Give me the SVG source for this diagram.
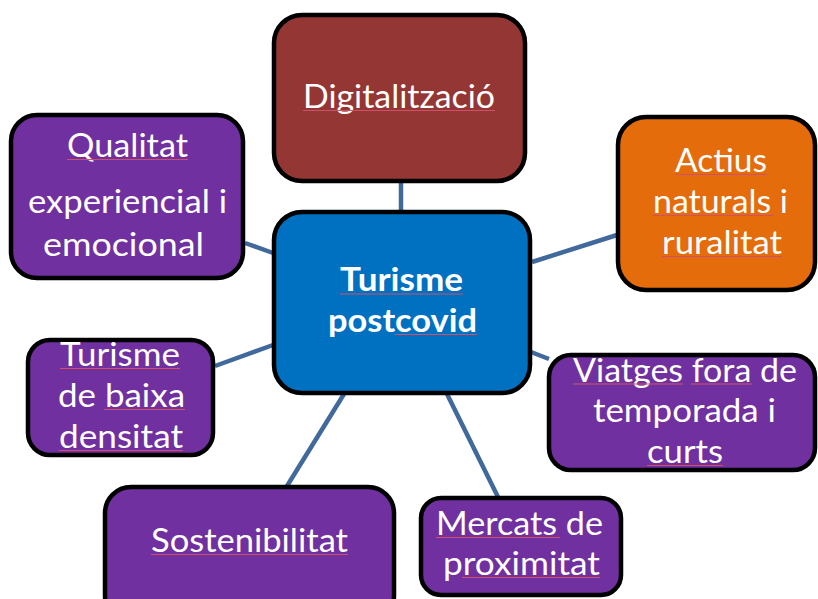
<svg xmlns="http://www.w3.org/2000/svg" width="818" height="599" viewBox="0 0 818 599">
<style>
.box{stroke:#000;stroke-width:4.5}
.purple{fill:#7030A0}
.t{font-family:Lato,"Open Sans","Liberation Sans",sans-serif;font-size:33px;fill:#fff;text-anchor:middle}
.b{font-weight:bold;font-size:32px}
.ul{stroke:#d0506a;stroke-width:1.2;fill:none}
.conn line{stroke:#41699C;stroke-width:4.5}
</style>
<rect width="818" height="599" fill="#fff"/>
<g id="connectors" class="conn">
<line x1="401" y1="183" x2="401" y2="211"/>
<line x1="245" y1="243" x2="273" y2="253"/>
<line x1="532" y1="262" x2="617" y2="235"/>
<line x1="215" y1="366" x2="273" y2="345"/>
<line x1="344" y1="394" x2="287" y2="486"/>
<line x1="447" y1="394" x2="498" y2="497"/>
<line x1="531" y1="352" x2="549" y2="359"/>
</g>
<g id="node-digitalitzacio">
<rect class="box" x="274" y="15" width="251" height="166" rx="28" fill="#943634"/>
<text class="t" x="399" y="108" textLength="192" lengthAdjust="spacingAndGlyphs">Digitalització</text>
<line class="ul" x1="303" y1="110.5" x2="495" y2="110.5"/>
</g>
<g id="node-qualitat">
<rect class="box purple" x="11" y="115" width="232" height="163" rx="26"/>
<text class="t" x="127.5" y="157" textLength="121" lengthAdjust="spacingAndGlyphs">Qualitat</text>
<text class="t" x="127.5" y="213" textLength="199" lengthAdjust="spacingAndGlyphs">experiencial i</text>
<text class="t" x="123.5" y="256" textLength="161" lengthAdjust="spacingAndGlyphs">emocional</text>
<line class="ul" x1="67" y1="159.5" x2="188" y2="159.5"/>
</g>
<g id="node-turisme-postcovid">
<rect class="box" x="274" y="212" width="256" height="181" rx="28" fill="#0070C0"/>
<text class="t b" x="401.5" y="291" textLength="123" lengthAdjust="spacingAndGlyphs">Turisme</text>
<text class="t b" x="402.5" y="332" textLength="149" lengthAdjust="spacingAndGlyphs">postcovid</text>
<line class="ul" x1="340" y1="294" x2="463" y2="294"/>
<line class="ul" x1="395" y1="334.5" x2="477" y2="334.5"/>
</g>
<g id="node-actius">
<rect class="box" x="618" y="117" width="197" height="173" rx="28" fill="#E46C0A"/>
<text class="t" x="721" y="172" textLength="92" lengthAdjust="spacingAndGlyphs">Actius</text>
<text class="t" x="720.5" y="213" textLength="135" lengthAdjust="spacingAndGlyphs">naturals i</text>
<text class="t" x="722" y="254" textLength="120" lengthAdjust="spacingAndGlyphs">ruralitat</text>
<line class="ul" x1="675" y1="174.5" x2="767" y2="174.5"/>
<line class="ul" x1="653" y1="215.5" x2="773" y2="215.5"/>
<line class="ul" x1="662" y1="256.5" x2="782" y2="256.5"/>
</g>
<g id="node-baixa-densitat">
<rect class="box purple" x="28" y="340" width="185" height="115" rx="22"/>
<text class="t" x="120" y="366" textLength="120" lengthAdjust="spacingAndGlyphs">Turisme</text>
<text class="t" x="121.5" y="407" textLength="127" lengthAdjust="spacingAndGlyphs">de baixa</text>
<text class="t" x="121" y="448" textLength="124" lengthAdjust="spacingAndGlyphs">densitat</text>
<line class="ul" x1="60" y1="368.5" x2="180" y2="368.5"/>
<line class="ul" x1="104" y1="409.5" x2="185" y2="409.5"/>
<line class="ul" x1="59" y1="450.5" x2="183" y2="450.5"/>
</g>
<g id="node-sostenibilitat">
<rect class="box purple" x="105" y="487" width="289" height="135" rx="26"/>
<text class="t" x="249.5" y="552" textLength="197" lengthAdjust="spacingAndGlyphs">Sostenibilitat</text>
<line class="ul" x1="151" y1="554.5" x2="348" y2="554.5"/>
</g>
<g id="node-viatges">
<rect class="box purple" x="549" y="355" width="266" height="115" rx="22"/>
<text class="t" x="685" y="382" textLength="224" lengthAdjust="spacingAndGlyphs">Viatges fora de</text>
<text class="t" x="684.5" y="422" textLength="183" lengthAdjust="spacingAndGlyphs">temporada i</text>
<text class="t" x="685" y="463" textLength="76" lengthAdjust="spacingAndGlyphs">curts</text>
<line class="ul" x1="573" y1="384" x2="683" y2="384"/>
<line class="ul" x1="691" y1="384" x2="752" y2="384"/>
<line class="ul" x1="647" y1="465.5" x2="723" y2="465.5"/>
</g>
<g id="node-mercats">
<rect class="box purple" x="421" y="498" width="200" height="97" rx="20"/>
<text class="t" x="519.5" y="535" textLength="167" lengthAdjust="spacingAndGlyphs">Mercats de</text>
<text class="t" x="521.5" y="575" textLength="157" lengthAdjust="spacingAndGlyphs">proximitat</text>
<line class="ul" x1="436" y1="537.5" x2="560" y2="537.5"/>
<line class="ul" x1="462" y1="577.5" x2="600" y2="577.5"/>
</g>
</svg>
